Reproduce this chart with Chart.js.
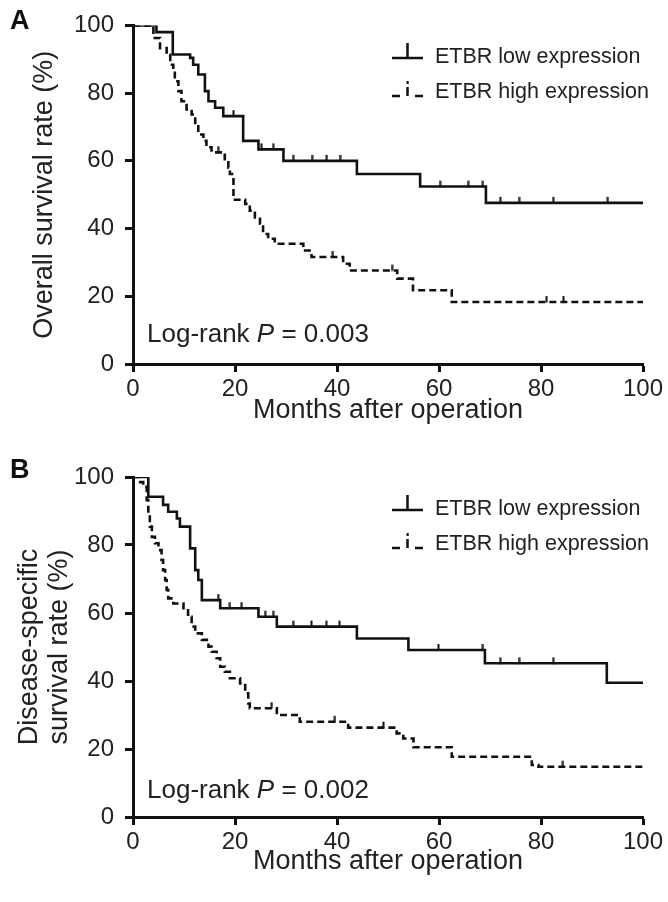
<!DOCTYPE html>
<html>
<head>
<meta charset="utf-8">
<title>ETBR survival curves</title>
<script src="https://cdn.jsdelivr.net/npm/chart.js@4.4.1/dist/chart.umd.min.js"></script>
<style>
  body { margin: 0; background: #fff; }
  canvas { display: block; }
</style>
</head>
<body>
<canvas id="chartA" width="668" height="451"></canvas>
<canvas id="chartB" width="668" height="451"></canvas>
<script>
// values (months, % surviving)
var xTicks = [0, 20, 40, 60, 80, 100];
var yTicks = [0, 20, 40, 60, 80, 100];
var seriesNames = ['ETBR low expression', 'ETBR high expression'];
var xTitle = 'Months after operation';

// A - overall survival
var osLowMonths = [0, 4.6, 7.8, 11.2, 11.8, 12.8, 14.1, 14.8, 16.1, 17.7, 21.6, 24.6, 29.5, 43.9, 56.3, 69.2, 100];
var osLowRate   = [100, 98.0, 91.4, 90.4, 88.4, 85.5, 80.6, 77.6, 75.7, 73.2, 65.9, 63.4, 60.0, 56.1, 52.4, 47.6, 47.6];
var osLowCensMonths = [2.6, 19.7, 25.2, 27.5, 31.4, 35.1, 38.0, 40.6, 60.2, 65.7, 68.6, 72.0, 75.7, 82.4, 93.1];
var osLowCensRate   = [100, 73.2, 63.4, 63.4, 60.0, 60.0, 60.0, 60.0, 52.4, 52.4, 52.4, 47.6, 47.6, 47.6, 47.6];

var osHighMonths = [0, 4.0, 5.3, 6.6, 7.3, 7.9, 8.2, 8.9, 9.5, 10.5, 11.5, 12.2, 12.8, 13.8, 14.4, 15.4, 18.0, 18.7, 19.0, 19.7, 22.0, 22.9, 23.9, 24.9, 25.5, 26.5, 27.8, 33.4, 35.0, 41.2, 42.5, 51.8, 54.9, 62.5, 100];
var osHighRate   = [100, 96.3, 93.3, 91.4, 88.4, 86.5, 83.5, 80.6, 77.6, 75.2, 73.7, 70.8, 67.8, 65.9, 64.0, 62.5, 60.0, 58.0, 56.1, 48.5, 47.3, 45.3, 43.3, 41.4, 38.4, 37.0, 35.5, 33.5, 31.6, 29.6, 27.6, 25.2, 21.8, 18.3, 18.3];
var osHighCensMonths = [16.7, 39.2, 50.8, 81.1, 84.4];
var osHighCensRate   = [62.5, 31.6, 27.6, 18.3, 18.3];

// B - disease-specific survival
var dssLowMonths = [0, 3.0, 5.9, 6.9, 8.6, 9.2, 11.2, 12.2, 12.8, 13.5, 17.1, 24.6, 28.2, 43.9, 54.0, 69.0, 92.9, 100];
var dssLowRate   = [100, 94.2, 91.8, 89.8, 87.8, 85.4, 79.0, 72.6, 69.7, 63.8, 61.4, 58.9, 56.0, 52.5, 49.1, 45.2, 39.5, 39.5];
var dssLowCensMonths = [16.7, 19.0, 21.3, 25.9, 27.5, 31.4, 35.0, 37.9, 40.5, 59.9, 68.6, 72.0, 75.7, 82.4];
var dssLowCensRate   = [63.8, 61.4, 61.4, 58.9, 58.9, 56.0, 56.0, 56.0, 56.0, 49.1, 49.1, 45.2, 45.2, 45.2];

var dssHighMonths = [0, 1.4, 2.0, 2.7, 3.0, 3.3, 3.7, 4.3, 5.0, 5.6, 5.9, 6.3, 6.6, 6.9, 7.9, 9.9, 10.8, 11.5, 12.2, 13.5, 14.8, 15.4, 16.4, 17.1, 18.0, 19.0, 21.0, 22.0, 22.6, 22.9, 28.2, 32.7, 42.2, 51.7, 53.0, 55.0, 62.5, 78.2, 79.5, 100];
var dssHighRate   = [100, 98.5, 97.1, 93.2, 89.3, 85.4, 82.4, 80.5, 78.5, 75.6, 72.6, 69.7, 66.8, 64.3, 62.8, 61.4, 58.9, 56.0, 54.0, 52.1, 50.1, 48.6, 46.7, 44.2, 42.7, 40.8, 39.3, 36.4, 33.4, 32.0, 30.0, 28.0, 26.3, 24.6, 23.1, 20.5, 17.7, 15.3, 14.8, 14.8];
var dssHighCensMonths = [27.2, 39.6, 49.1, 84.3];
var dssHighCensRate   = [32.0, 28.0, 26.3, 14.8];

Chart.defaults.font.family = '"Liberation Sans", Arial, Helvetica, sans-serif';
Chart.defaults.color = '#222';

function toPoints(xs, ys) {
  var pts = [];
  for (var i = 0; i < xs.length; i++) {
    pts.push({ x: xs[i], y: ys[i] });
  }
  return pts;
}

// small upward tick used for censored cases
var censorMark = document.createElement('canvas');
censorMark.width = 3;
censorMark.height = 14;
(function () {
  var c = censorMark.getContext('2d');
  c.fillStyle = '#111';
  c.fillRect(0.5, 1, 2, 6.5);
})();

var ink = '#111';

var decor = {
  id: 'decor',
  afterDraw: function (chart, args, opts) {
    var ctx = chart.ctx;
    ctx.save();
    ctx.fillStyle = ink;
    ctx.textBaseline = 'alphabetic';
    ctx.textAlign = 'left';

    // panel letter
    ctx.font = 'bold 27px "Liberation Sans", Arial, sans-serif';
    ctx.fillText(opts.letter, 10, opts.letterY);

    // legend
    var ly = opts.legendY;
    ctx.strokeStyle = ink;
    ctx.lineWidth = 2.5;
    ctx.beginPath();
    ctx.moveTo(392, ly); ctx.lineTo(423, ly);
    ctx.moveTo(407.5, ly); ctx.lineTo(407.5, ly - 15);
    ctx.stroke();
    var ly2 = ly + 38;
    ctx.beginPath();
    ctx.moveTo(392, ly2); ctx.lineTo(400, ly2);
    ctx.moveTo(415, ly2); ctx.lineTo(423, ly2);
    ctx.moveTo(407.5, ly2); ctx.lineTo(407.5, ly2 - 9);
    ctx.stroke();
    ctx.fillRect(406.5, ly2 - 15, 2.2, 3);

    ctx.fillStyle = '#222';
    ctx.font = '21.5px "Liberation Sans", Arial, sans-serif';
    ctx.fillText(seriesNames[0], 435, ly + 5);
    ctx.fillText(seriesNames[1], 435, ly2 + 2);

    // log-rank test
    var x = 147, y = opts.pY;
    ctx.font = '26px "Liberation Sans", Arial, sans-serif';
    ctx.fillText('Log-rank ', x, y);
    x += ctx.measureText('Log-rank ').width;
    ctx.font = 'italic 26px "Liberation Sans", Arial, sans-serif';
    ctx.fillText('P', x, y);
    x += ctx.measureText('P').width;
    ctx.font = '26px "Liberation Sans", Arial, sans-serif';
    ctx.fillText(' = ' + opts.pValue, x, y);
    ctx.restore();
  }
};

function makePanel(id, d) {
  var ctx = document.getElementById(id);
  return new Chart(ctx, {
    type: 'line',
    data: {
      datasets: [
        {
          label: seriesNames[0],
          data: toPoints(d.lowX, d.lowY),
          stepped: true,
          borderColor: ink,
          borderWidth: 2.6,
          pointRadius: 0,
          fill: false
        },
        {
          label: seriesNames[1],
          data: toPoints(d.highX, d.highY),
          stepped: true,
          borderColor: ink,
          borderWidth: 2.6,
          borderDash: [7, 4],
          pointRadius: 0,
          fill: false
        },
        {
          label: 'censored low',
          data: toPoints(d.lowCX, d.lowCY),
          showLine: false,
          pointStyle: censorMark,
          pointRadius: 3
        },
        {
          label: 'censored high',
          data: toPoints(d.highCX, d.highCY),
          showLine: false,
          pointStyle: censorMark,
          pointRadius: 3
        }
      ]
    },
    options: {
      responsive: false,
      animation: false,
      events: [],
      layout: { padding: { top: d.top, right: 25, left: 0, bottom: 0 } },
      plugins: {
        legend: { display: false },
        tooltip: { enabled: false },
        decor: d.decor
      },
      scales: {
        x: {
          type: 'linear',
          min: 0,
          max: 100,
          afterBuildTicks: function (axis) {
            axis.ticks = xTicks.map(function (v) { return { value: v }; });
          },
          afterFit: function (s) { s.height = d.xAxisH; },
          border: { display: true, color: ink, width: 3 },
          grid: { drawOnChartArea: false, drawTicks: true, tickLength: 8, tickWidth: 3, color: ink },
          ticks: { padding: 3, maxRotation: 0, font: { size: 24 }, color: '#222' },
          title: { display: true, text: xTitle, font: { size: 27 }, color: '#222', padding: { top: 0, bottom: 24 } }
        },
        y: {
          type: 'linear',
          min: 0,
          max: 100,
          afterBuildTicks: function (axis) {
            axis.ticks = yTicks.map(function (v) { return { value: v }; });
          },
          afterFit: function (s) { s.width = 133; },
          border: { display: true, color: ink, width: 3 },
          grid: { drawOnChartArea: false, drawTicks: true, tickLength: 8, tickWidth: 3, color: ink },
          ticks: { padding: 11, font: { size: 24 }, color: '#222' },
          title: { display: true, text: d.yTitle, font: { size: 27, lineHeight: 1.1 }, color: '#222', padding: { top: d.yTitlePad, bottom: 0 } }
        }
      }
    },
    plugins: [decor]
  });
}

makePanel('chartA', {
  lowX: osLowMonths, lowY: osLowRate,
  highX: osHighMonths, highY: osHighRate,
  lowCX: osLowCensMonths, lowCY: osLowCensRate,
  highCX: osHighCensMonths, highCY: osHighCensRate,
  top: 24, xAxisH: 87,
  yTitle: 'Overall survival rate (%)', yTitlePad: 30,
  decor: { letter: 'A', letterY: 29, legendY: 58, pY: 342, pValue: '0.003' }
});

makePanel('chartB', {
  lowX: dssLowMonths, lowY: dssLowRate,
  highX: dssHighMonths, highY: dssHighRate,
  lowCX: dssLowCensMonths, lowCY: dssLowCensRate,
  highCX: dssHighCensMonths, highCY: dssHighCensRate,
  top: 26, xAxisH: 85,
  yTitle: ['Disease-specific', 'survival rate (%)'], yTitlePad: 15,
  decor: { letter: 'B', letterY: 27, legendY: 59, pY: 347, pValue: '0.002' }
});
</script>
</body>
</html>
